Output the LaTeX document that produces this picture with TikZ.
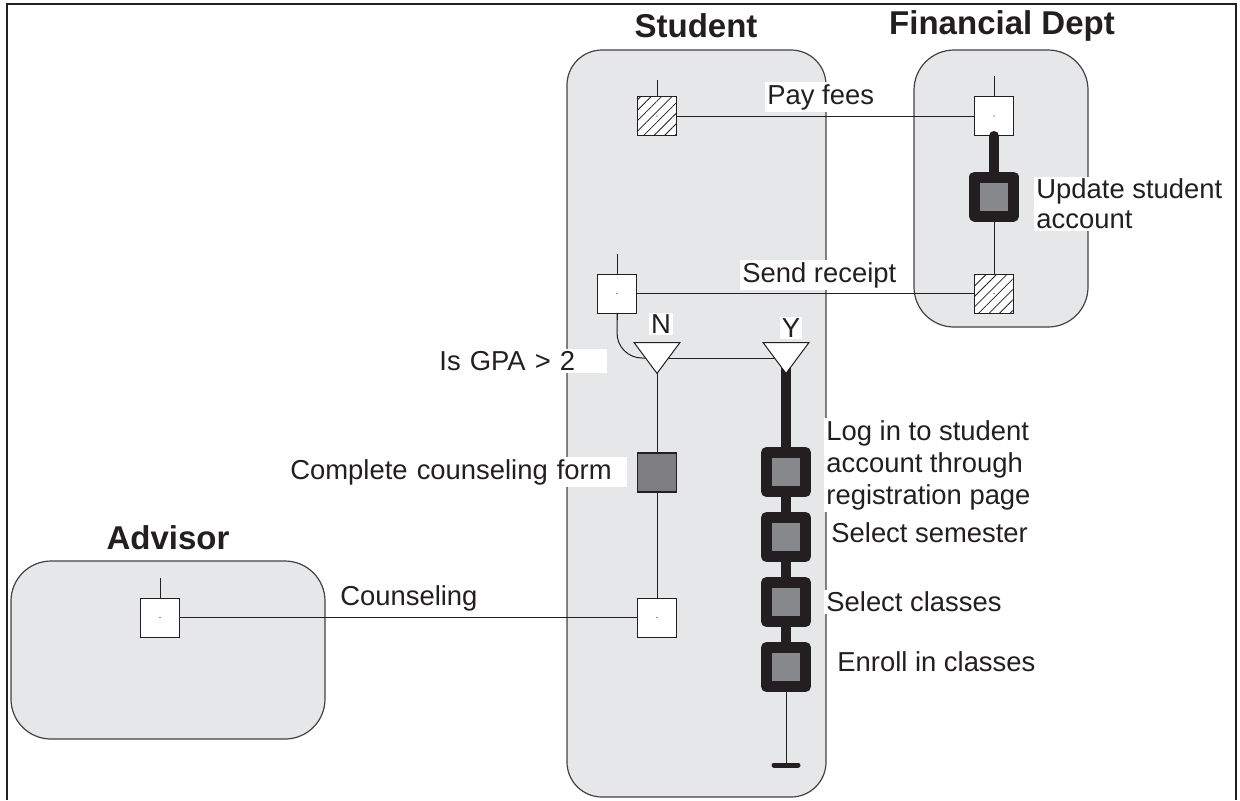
\documentclass[tikz,border=0pt]{standalone}
\usepackage{fontspec}
\setmainfont{Liberation Sans}
\usetikzlibrary{patterns.meta,calc}
\definecolor{poolfill}{HTML}{E6E7E8}
\definecolor{ink}{HTML}{231F20}
\definecolor{midgray}{HTML}{87888B}
\definecolor{formgray}{HTML}{7E7E81}
\begin{document}
\begin{tikzpicture}[x=0.5pt,y=-0.5pt,
  pool/.style={draw=ink!85, line width=0.6pt, fill=poolfill, rounded corners=#1, inner sep=0},
  pool/.default=20pt,
  sq/.style={draw=ink, line width=0.5pt, fill=white, minimum size=19.5pt, inner sep=0},
  hsq/.style={sq, preaction={fill=white}, pattern={Lines[angle=45, distance=3.7pt, line width=0.4pt]}, pattern color=ink},
  task/.style={draw=ink, line width=5.5pt, line join=round, fill=midgray, minimum size=19.5pt, inner sep=0},
  form/.style={draw=ink, line width=0.6pt, fill=formgray, minimum size=19.5pt, inner sep=0},
  gate/.style={minimum width=22.5pt, minimum height=15pt, inner sep=0},
  gateshape/.style={draw=ink, line width=0.5pt, fill=white, line join=miter},
  flow/.style={draw=ink, line width=0.5pt},
  heavy/.style={draw=ink, line width=5pt},
  lbl/.style={fill=white, inner xsep=1pt, inner ysep=1pt, font=\fontsize{13.7}{16}\selectfont, text=ink},
  ttl/.style={font=\fontsize{16.5}{19}\selectfont\bfseries, text=ink, inner sep=0},
  dot/.style={fill=ink}
]
\useasboundingbox (0,0) rectangle (1240,800);
% frame
\draw[ink, line width=1pt] (7,800) -- (7,4) -- (1236,4) -- (1236,800);

% pools
\node[pool=17.5pt, minimum width=129.5pt, minimum height=373.5pt] (student) at (696.5,423.5) {};
\node[pool=20pt, minimum width=87pt, minimum height=138.5pt] (fin) at (1001,188.5) {};
\node[pool=20pt, minimum width=157pt, minimum height=89pt] (adv) at (168,650) {};

% titles
\node[ttl] (tStudent) at (696,26) {Student};
\node[ttl] (tFin) at (1002,26) {Financial Dept};
\node[ttl] (tAdv) at (168,538) {Advisor};

% gates (invisible frames, drawn later)
\node[gate] (N) at (657,358) {};
\node[gate] (Y) at (786,358) {};

% connectors below the shapes
\draw[flow, rounded corners=12.5pt] (617,313) |- (N.center);
\draw[flow] (N.center) -- (Y.center);

% squares and tasks
\node[hsq] (sPay) at (657,116) {};
\node[sq] (fPay) at (994,116) {};
\node[task] (fUpd) at (994,196.5) {};
\node[hsq] (fRec) at (994,293.5) {};
\node[sq] (sRec) at (617,293.5) {};
\node[form] (sForm) at (657,472.5) {};
\node[sq] (sCoun) at (657,617.5) {};
\node[sq] (aCoun) at (160,617.5) {};
\node[task] (a1) at (786,472) {};
\node[task] (a2) at (786,537) {};
\node[task] (a3) at (786,602) {};
\node[task] (a4) at (786,667) {};
\coordinate (endpt) at (786,765);

% dots in white / hatched squares
\foreach \n in {sPay,fPay,fRec,sRec,sCoun,aCoun}
  \fill[dot] (\n.center) circle (0.35pt);

% stubs
\draw[flow] (sPay.north) -- ++(0,-16);
\draw[flow] (fPay.north) -- ++(0,-20);
\draw[flow] (sRec.north) -- ++(0,-20);
\draw[flow] (aCoun.north) -- ++(0,-20);

% message flows
\draw[flow] (sPay.east) -- (fPay.west);
\draw[flow] (fRec.west) -- (sRec.east);
\draw[flow] (aCoun.east) -- (sCoun.west);

% sequence flows
\draw[flow] (sRec.south) -- (617,320);
\draw[heavy, line cap=round] (fPay.south) -- (fUpd.north);
\draw[flow] (fUpd.south) -- (fRec.north);
\draw[flow] (N.south) -- (sForm.north);
\draw[flow] (sForm.south) -- (sCoun.north);
\draw[heavy] (Y.center) -- (a1.north);
\draw[heavy] (a1.south) -- (a2.north);
\draw[heavy] (a2.south) -- (a3.north);
\draw[heavy] (a3.south) -- (a4.north);
\draw[flow] (a4.south) -- (endpt);
\draw[ink, line width=2.5pt, line cap=round] ($(endpt)+(-12,0)$) -- ($(endpt)+(12,0)$);

% gate shapes on top
\draw[gateshape] (N.north west) -- (N.north east) -- (N.south) -- cycle;
\draw[gateshape] (Y.north west) -- (Y.north east) -- (Y.south) -- cycle;

% labels
\node[lbl, anchor=west] (lPay) at (765,97) {Pay fees};
\node[lbl, anchor=west] (lRec) at (740,275) {Send receipt};
\node[lbl, anchor=west, align=left, font=\fontsize{13.7}{15}\selectfont] (lUpd) at (1034,204) {Update student\\account};
\node[lbl] (lN) at (661,324) {N};
\node[lbl] (lY) at (791,328) {Y};
\node[lbl, anchor=west, text width=83pt, align=left] (lGpa) at (437,361) {Is GPA > 2};
\node[lbl, anchor=west, text width=167.5pt, align=left] (lForm) at (288,472) {Complete counseling form};
\node[lbl, anchor=west] (lCoun) at (338,598) {Counseling};
\node[lbl, anchor=west, align=left] (l1) at (824,465) {Log in to student\\account through\\registration page};
\node[lbl, anchor=west] (l2) at (829,533) {Select semester};
\node[lbl, anchor=west] (l3) at (824,602) {Select classes};
\node[lbl, anchor=west] (l4) at (835,662) {Enroll in classes};
\end{tikzpicture}
\end{document}
